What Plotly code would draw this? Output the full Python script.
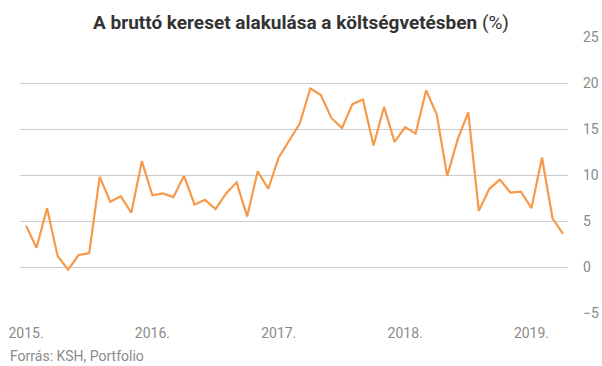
import plotly.graph_objects as go

months = [f"{y}-{m:02d}" for y in range(2015, 2020) for m in range(1, 13)][:52]
values = [4.5, 2.1, 6.4, 1.2, -0.3, 1.3, 1.5, 9.8, 7.1, 7.7, 5.9, 11.5,
          7.8, 8.0, 7.6, 9.9, 6.8, 7.3, 6.3, 8.0, 9.2, 5.5, 10.4, 8.5,
          11.9, 13.8, 15.6, 19.4, 18.7, 16.2, 15.1, 17.7, 18.2, 13.2, 17.4, 13.6,
          15.2, 14.5, 19.2, 16.6, 9.9, 13.9, 16.8, 6.1, 8.5, 9.5, 8.1, 8.2,
          6.4, 11.9, 5.3, 3.6]
year_ticks = ["2015-01", "2016-01", "2017-01", "2018-01", "2019-01"]
year_labels = ["2015.", "2016.", "2017.", "2018.", "2019."]
y_ticks = [-5, 0, 5, 10, 15, 20, 25]

title = "<b>A bruttó kereset alakulása a költségvetésben</b> (%)"
source = "Forrás: KSH, Portfolio"

fig = go.Figure()
fig.add_trace(go.Scatter(x=months, y=values, mode="lines",
                         line=dict(color="#F7994A", width=2.2),
                         hoverinfo="x+y"))

fig.update_layout(
    width=602, height=366,
    margin=dict(l=20, r=34, t=37, b=53, autoexpand=False),
    paper_bgcolor="white", plot_bgcolor="white",
    showlegend=False,
    font=dict(family="Roboto, sans-serif", color="#8a8a8a", size=14),
    title=dict(text=title, x=0.5, xanchor="center", y=1 - 22/366, yanchor="middle",
               font=dict(family="Roboto, sans-serif", size=19, color="#333333")),
    annotations=[dict(text=source, xref="paper", yref="paper",
                      x=-12/548, y=-(356-313)/276, xanchor="left", yanchor="middle",
                      showarrow=False, font=dict(size=14, color="#8a8a8a"))],
)
fig.update_xaxes(type="category", range=[-0.57, 51.47], tickvals=year_ticks,
                 ticktext=year_labels, showgrid=False, showline=False,
                 ticks="", ticklabelstandoff=10, automargin=False)
fig.update_yaxes(side="right", range=[-5, 25], tickvals=y_ticks,
                 showgrid=True, gridcolor="#cccccc", gridwidth=1,
                 zeroline=False, showline=False, ticks="", ticklabelstandoff=14,
                 automargin=False)

fig.write_html("out.html", config={"displayModeBar": False},
               post_script="document.body.style.margin='0';")
